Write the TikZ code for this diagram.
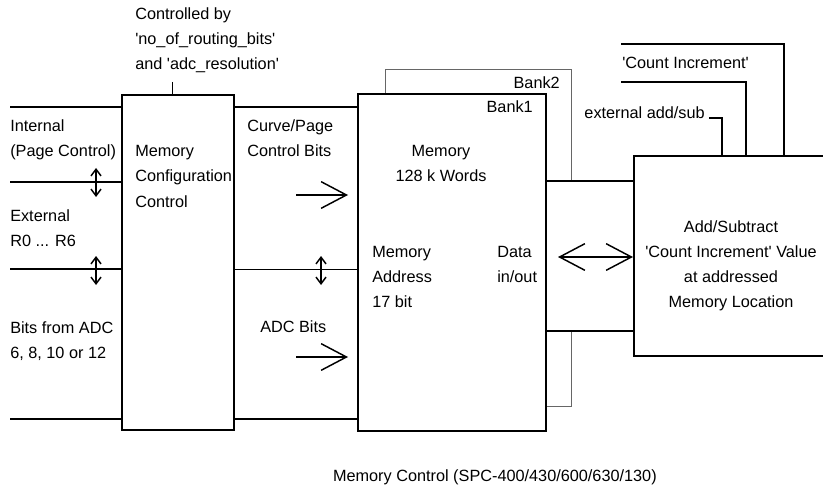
\documentclass[tikz,border=0pt]{standalone}
\usepackage{fontspec}
\setmainfont{Liberation Sans}
\usetikzlibrary{arrows.meta,fit}

\newcommand{\q}{\textquotesingle}

\tikzset{
  blk/.style={draw, line width=1.5pt, fill=white, inner sep=0pt},
  bankbox/.style={draw=black!60, line width=0.75pt, fill=white, inner sep=0pt},
  bus/.style={line width=1.5pt},
  thinbus/.style={line width=0.75pt},
  lbl/.style={anchor=base west, inner sep=0pt, align=left,
    font=\fontsize{12.2pt}{18.75pt}\selectfont},
  clbl/.style={lbl, anchor=base, align=center},
  flow/.style={line width=1.1pt, -{Straight Barb[length=19pt,width=20pt,line width=1.1pt]}},
  bigdbl/.style={line width=1.1pt,
    {Straight Barb[length=19pt,width=20pt,line width=1.1pt]}-{Straight Barb[length=19pt,width=20pt,line width=1.1pt]}},
  updown/.style={line width=1.1pt,
    {Straight Barb[length=5pt,width=7.5pt,line width=1.1pt]}-{Straight Barb[length=5pt,width=7.5pt,line width=1.1pt]}}
}

\begin{document}
\begin{tikzpicture}[x=0.75pt,y=-0.75pt]
\useasboundingbox (0,0) rectangle (823,488);

% boxes (anchor of multi-line labels = baseline of last line)
\node[bankbox, fit={(385,70) (571,406)}] (bank2) {};
\node[blk, fit={(358,94) (546,431)}] (mem) {};
\node[blk, fit={(546,181) (634,331)}] (data) {};
\node[blk, fit={(634,156) (840,356)}] (addsub) {};
\node[blk, fit={(122,95) (234,430)}] (mcc) {};

% control input of the configuration block
\node[lbl] (ctltext) at (135,70) {Controlled by\\\q no\_of\_routing\_bits\q\\and \q adc\_resolution\q};
\coordinate (ctl) at (172,82);
\draw[thinbus] (ctl) -- (ctl |- mcc.north);

% inputs on the left
\coordinate (inA) at (10,107);
\coordinate (inB) at (10,182);
\coordinate (inC) at (10,269);
\coordinate (inD) at (10,419);
\draw[bus] (inA) -- (inA -| mcc.west);
\draw[bus] (inB) -- (inB -| mcc.west);
\draw[line width=1.1pt] (inC) -- (inC -| mcc.west);
\draw[bus] (inD) -- (inD -| mcc.west);
\node[lbl] (internal) at (10,157) {Internal\\(Page Control)};
\node[lbl] (external) at (10,246) {External\\R0 ... R6};
\node[lbl] (adcin) at (10,358) {Bits from ADC\\6, 8, 10 or 12};
\draw[updown] (96,168) -- (96,197);
\draw[updown] (96,256) -- (96,285);

\node[lbl] (mcctext) at (135,207) {Memory\\Configuration\\Control};

% between configuration and memory
\draw[bus] (mcc.east |- inA) -- (mem.west |- inA);
\draw[thinbus] (mcc.east |- inC) -- (mem.west |- inC);
\draw[bus] (mcc.east |- inD) -- (mem.west |- inD);
\node[lbl] (cpbits) at (247,157) {Curve/Page\\Control Bits};
\node[lbl] (adcbits) at (260,332) {ADC Bits};
\draw[flow] (296,195) -- (348,195);
\draw[flow] (296,357) -- (348,357);
\draw[updown] (321,256) -- (321,285);

% memory banks
\node[lbl, anchor=base east] (b2) at (560,89) {Bank2};
\node[lbl, anchor=base east] (b1) at (533,113) {Bank1};
\node[clbl] (memtext) at (441,182) {Memory\\128 k Words};
\node[lbl] (addrtext) at (372,307) {Memory\\Address\\17 bit};
\node[lbl] (datatext) at (497,282) {Data\\in/out};

% data path
\coordinate (dio) at (558,257);
\draw[bigdbl] (dio) -- (dio -| addsub.west);

% add/subtract unit
\node[clbl] (addtext) at (731,307) {Add/Subtract\\\q Count Increment\q{} Value\\at addressed\\Memory Location};
\coordinate (ciA) at (621,44);
\coordinate (ciB) at (784,0);
\coordinate (ciC) at (621,82);
\coordinate (ciD) at (746,0);
\coordinate (exA) at (709,118);
\coordinate (exB) at (722,0);
\draw[bus] (ciA) -| (ciB |- addsub.north);
\draw[bus] (ciC) -| (ciD |- addsub.north);
\draw[bus] (exA) -| (exB |- addsub.north);
\node[lbl] (citext) at (622,69) {\q Count Increment\q};
\node[lbl, anchor=base east] (extext) at (705,119) {external add/sub};

\node[lbl, anchor=base east] (caption) at (657,481) {Memory Control (SPC-400/430/600/630/130)};
\end{tikzpicture}
\end{document}
